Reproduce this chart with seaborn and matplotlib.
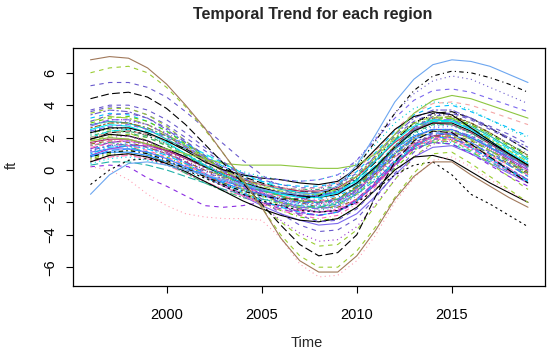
import pandas as pd
import numpy as np
import seaborn as sns
import matplotlib.pyplot as plt

# yearly temporal trend (ft) per region
years = list(range(1996, 2020))

r01 = [6.8, 7.0, 6.9, 6.3, 5.3, 4.0, 2.6, 1.0, -0.6, -2.3, -4.2, -5.6, -6.3, -6.3, -5.3, -3.7, -1.8, -0.4, 0.5, 0.5, -0.3, -1.0, -1.7, -2.3]
r02 = [6.0, 6.3, 6.4, 6.0, 5.1, 3.9, 2.5, 1.0, -0.6, -2.3, -4.0, -5.3, -6.0, -6.0, -5.0, -3.5, -1.7, -0.2, 1.0, 1.1, 0.4, -0.4, -1.2, -2.0]
r03 = [0.2, 0.0, -0.6, -1.5, -2.2, -2.7, -2.9, -3.0, -3.0, -3.1, -4.2, -5.8, -6.6, -6.5, -5.6, -4.0, -2.0, -0.5, 0.6, 0.8, 0.2, -0.6, -1.3, -2.0]
r04 = [5.2, 5.4, 5.4, 5.1, 4.5, 3.6, 2.6, 1.6, 0.6, -0.3, -1.1, -1.7, -2.0, -1.9, -1.2, 0.0, 1.4, 2.6, 3.3, 3.5, 3.2, 2.7, 2.2, 1.6]
r05 = [4.4, 4.7, 4.8, 4.5, 3.8, 2.8, 1.6, 0.4, -0.8, -2.1, -3.4, -4.6, -5.3, -5.1, -4.0, -1.6, 0.5, 1.8, 2.4, 2.3, 1.6, 0.8, 0.0, -0.8]
r06 = [3.7, 4.0, 4.0, 3.7, 3.1, 2.3, 1.4, 0.5, -0.4, -1.3, -2.1, -2.8, -3.2, -3.1, -2.4, -1.2, 0.2, 1.5, 2.3, 2.5, 2.1, 1.5, 0.8, 0.1]
r07 = [-1.5, -0.3, 0.4, 0.5, 0.3, 0.0, -0.3, -0.6, -0.9, -1.2, -1.4, -1.5, -1.4, -1.0, 0.3, 2.2, 4.2, 5.6, 6.5, 6.8, 6.7, 6.4, 5.9, 5.4]
r08 = [0.8, 1.1, 1.2, 1.0, 0.6, 0.1, -0.4, -0.9, -1.3, -1.6, -1.8, -1.8, -1.6, -1.0, 0.2, 1.8, 3.5, 4.9, 5.8, 6.1, 6.0, 5.7, 5.3, 4.8]
r09 = [1.2, 1.5, 1.6, 1.4, 1.0, 0.5, 0.0, -0.5, -0.9, -1.2, -1.4, -1.4, -1.2, -0.6, 0.6, 2.0, 3.5, 4.7, 5.5, 5.8, 5.6, 5.1, 4.6, 4.1]
r10 = [2.4, 2.7, 2.8, 2.5, 2.0, 1.4, 0.8, 0.2, -0.2, -0.5, -0.6, -0.7, -0.6, -0.3, 0.6, 1.9, 3.2, 4.3, 4.9, 5.0, 4.8, 4.4, 4.0, 3.6]
r11 = [1.8, 2.0, 1.9, 1.6, 1.3, 1.0, 0.7, 0.4, 0.3, 0.3, 0.3, 0.2, 0.1, 0.1, 0.3, 1.0, 2.2, 3.5, 4.3, 4.6, 4.4, 4.0, 3.6, 3.2]
r12 = [-0.9, 0.0, 0.6, 0.7, 0.4, 0.0, -0.5, -1.0, -1.5, -1.9, -2.2, -2.5, -2.6, -2.5, -2.0, -1.2, -0.3, 0.3, 0.5, -0.3, -1.5, -2.1, -2.8, -3.5]
r13 = [0.5, 0.9, 1.0, 0.8, 0.4, -0.1, -0.7, -1.3, -1.9, -2.4, -2.8, -3.1, -3.2, -3.0, -2.3, -1.2, 0.0, 0.8, 0.9, 0.6, -0.1, -0.8, -1.4, -2.0]
r14 = [2.3, 2.6, 2.6, 2.3, 1.8, 1.2, 0.5, 0.0, -0.3, -0.5, -0.6, -0.8, -0.9, -0.7, 0.1, 1.3, 2.5, 3.3, 3.6, 3.4, 2.6, 1.8, 1.0, 0.3]
r15 = [0.2, 0.3, 0.2, -0.5, -1.0, -1.6, -2.2, -2.3, -2.2, -2.0, -2.2, -2.6, -2.8, -2.6, -2.0, -0.8, 0.4, 1.3, 1.7, 1.6, 1.0, 0.3, -0.4, -1.0]
r16 = [3.0, 3.4, 3.5, 3.2, 2.6, 1.8, 0.9, 0.0, -0.9, -1.8, -2.7, -3.4, -3.8, -3.7, -3.0, -1.7, -0.2, 1.1, 1.9, 2.0, 1.5, 0.8, 0.1, -0.6]
r17 = [2.8, 3.1, 3.1, 2.8, 2.2, 1.4, 0.5, -0.4, -1.3, -2.2, -3.1, -3.9, -4.4, -4.3, -3.5, -2.1, -0.6, 0.8, 1.6, 1.8, 1.3, 0.6, -0.1, -0.8]
r18 = [3.5, 3.8, 3.8, 3.4, 2.7, 1.8, 0.8, -0.2, -1.2, -2.2, -3.2, -4.1, -4.7, -4.6, -3.7, -2.2, -0.6, 0.8, 1.7, 1.8, 1.2, 0.4, -0.4, -1.2]
r19 = [2.0, 2.3, 2.4, 2.2, 1.8, 1.2, 0.6, 0.0, -0.5, -0.9, -1.1, -1.2, -1.1, -0.8, 0.0, 1.2, 2.5, 3.5, 4.1, 4.2, 4.0, 3.6, 3.2, 2.8]
r20 = [2.4, 2.7, 2.8, 2.6, 2.1, 1.5, 0.9, 0.3, -0.1, -0.4, -0.6, -0.7, -0.6, -0.3, 0.4, 1.6, 2.9, 3.8, 4.2, 4.1, 3.7, 3.1, 2.5, 2.0]
r21 = [2.5, 2.8, 2.7, 2.3, 1.7, 1.0, 0.3, -0.3, -0.8, -1.2, -1.5, -1.7, -1.7, -1.4, -0.6, 0.6, 1.8, 2.7, 3.1, 3.0, 2.5, 1.8, 1.1, 0.4]
r22 = [2.0, 2.3, 2.3, 2.0, 1.5, 0.9, 0.2, -0.4, -0.9, -1.3, -1.6, -1.9, -2.0, -1.8, -1.1, 0.0, 1.3, 2.3, 2.8, 2.8, 2.3, 1.6, 0.9, 0.2]
r23 = [1.6, 2.0, 2.1, 1.8, 1.3, 0.7, 0.1, -0.5, -1.0, -1.4, -1.8, -2.1, -2.2, -2.0, -1.3, -0.2, 1.0, 2.0, 2.5, 2.5, 2.0, 1.3, 0.6, -0.1]
r24 = [1.2, 1.5, 1.6, 1.4, 1.0, 0.5, -0.1, -0.6, -1.1, -1.5, -1.8, -2.0, -2.1, -1.9, -1.3, -0.3, 0.8, 1.7, 2.2, 2.2, 1.7, 1.1, 0.4, -0.3]
r25 = [0.8, 1.2, 1.3, 1.1, 0.7, 0.2, -0.3, -0.8, -1.2, -1.5, -1.8, -2.0, -2.0, -1.8, -1.1, -0.1, 1.0, 1.9, 2.3, 2.2, 1.7, 1.0, 0.3, -0.4]
r26 = [3.0, 3.3, 3.2, 2.8, 2.2, 1.5, 0.7, 0.0, -0.6, -1.0, -1.3, -1.5, -1.5, -1.2, -0.4, 0.8, 2.0, 2.9, 3.3, 3.2, 2.6, 1.9, 1.2, 0.5]
r27 = [1.9, 2.2, 2.1, 1.8, 1.3, 0.8, 0.2, -0.3, -0.8, -1.1, -1.4, -1.6, -1.7, -1.5, -0.8, 0.2, 1.4, 2.4, 2.9, 2.9, 2.4, 1.7, 1.0, 0.3]
r28 = [1.4, 1.6, 1.5, 1.2, 0.8, 0.3, -0.2, -0.7, -1.1, -1.4, -1.6, -1.8, -1.9, -1.8, -1.2, -0.3, 0.8, 1.6, 2.0, 2.0, 1.5, 0.9, 0.3, -0.3]
r29 = [2.2, 2.6, 2.6, 2.3, 1.7, 1.0, 0.2, -0.5, -1.2, -1.7, -2.1, -2.4, -2.5, -2.3, -1.5, -0.3, 1.1, 2.2, 2.8, 2.8, 2.2, 1.4, 0.6, -0.2]
r30 = [0.6, 0.9, 1.0, 0.8, 0.5, 0.1, -0.4, -0.8, -1.2, -1.5, -1.7, -1.9, -1.9, -1.7, -1.1, -0.2, 0.9, 1.7, 2.1, 2.1, 1.6, 1.0, 0.4, -0.2]
r31 = [2.7, 3.1, 3.1, 2.8, 2.2, 1.5, 0.7, -0.1, -0.8, -1.4, -1.9, -2.3, -2.4, -2.2, -1.4, -0.1, 1.3, 2.5, 3.1, 3.1, 2.5, 1.7, 0.9, 0.1]
r32 = [1.0, 1.4, 1.5, 1.3, 0.9, 0.4, -0.2, -0.8, -1.4, -1.9, -2.3, -2.6, -2.8, -2.6, -1.9, -0.8, 0.5, 1.5, 2.0, 2.0, 1.4, 0.7, 0.0, -0.7]
r33 = [1.7, 1.9, 1.9, 1.6, 1.2, 0.7, 0.2, -0.2, -0.6, -0.9, -1.1, -1.3, -1.3, -1.1, -0.4, 0.6, 1.7, 2.5, 2.9, 2.8, 2.3, 1.6, 0.9, 0.2]
r34 = [2.9, 3.2, 3.3, 3.0, 2.4, 1.6, 0.8, 0.0, -0.7, -1.2, -1.6, -1.9, -2.0, -1.8, -1.1, 0.1, 1.4, 2.5, 3.1, 3.2, 2.8, 2.2, 1.5, 0.8]
r35 = [0.4, 0.7, 0.8, 0.6, 0.3, -0.1, -0.5, -0.9, -1.3, -1.6, -1.9, -2.1, -2.2, -2.0, -1.4, -0.5, 0.6, 1.4, 1.8, 1.7, 1.2, 0.6, 0.0, -0.6]
r36 = [2.1, 2.4, 2.4, 2.1, 1.6, 1.0, 0.4, -0.2, -0.6, -0.9, -1.1, -1.2, -1.2, -1.0, -0.3, 0.7, 1.9, 2.8, 3.2, 3.2, 2.8, 2.2, 1.6, 1.0]
r37 = [1.3, 1.7, 1.8, 1.6, 1.1, 0.5, -0.2, -0.9, -1.5, -2.0, -2.4, -2.7, -2.8, -2.6, -1.8, -0.7, 0.6, 1.6, 2.1, 2.0, 1.4, 0.7, 0.0, -0.6]
r38 = [3.4, 3.7, 3.6, 3.2, 2.5, 1.7, 0.8, 0.0, -0.6, -1.1, -1.4, -1.6, -1.6, -1.3, -0.4, 0.9, 2.2, 3.2, 3.7, 3.7, 3.2, 2.6, 2.0, 1.4]
r39 = [0.9, 1.1, 1.1, 0.9, 0.5, 0.1, -0.3, -0.7, -1.0, -1.3, -1.5, -1.6, -1.6, -1.4, -0.8, 0.2, 1.3, 2.1, 2.5, 2.5, 2.0, 1.4, 0.8, 0.2]
r40 = [1.8, 2.1, 2.2, 2.0, 1.5, 0.9, 0.2, -0.5, -1.1, -1.6, -2.0, -2.3, -2.4, -2.2, -1.5, -0.4, 0.9, 1.9, 2.4, 2.4, 1.9, 1.2, 0.5, -0.2]
r41 = [2.4, 2.6, 2.5, 2.1, 1.6, 1.0, 0.3, -0.3, -0.8, -1.2, -1.4, -1.6, -1.6, -1.3, -0.5, 0.7, 1.9, 2.9, 3.4, 3.4, 2.9, 2.3, 1.6, 0.9]
r42 = [1.5, 1.8, 1.8, 1.5, 1.0, 0.4, -0.3, -1.0, -1.6, -2.1, -2.5, -2.8, -3.0, -2.8, -2.1, -1.0, 0.3, 1.3, 1.8, 1.8, 1.3, 0.6, -0.1, -0.8]
r43 = [0.3, 0.5, 0.5, 0.3, 0.0, -0.4, -0.8, -1.2, -1.5, -1.8, -2.0, -2.2, -2.3, -2.1, -1.5, -0.6, 0.5, 1.3, 1.7, 1.6, 1.1, 0.5, -0.1, -0.7]
r44 = [2.6, 2.9, 2.9, 2.6, 2.1, 1.4, 0.6, -0.1, -0.7, -1.2, -1.6, -1.9, -2.0, -1.8, -1.0, 0.2, 1.5, 2.6, 3.2, 3.3, 2.9, 2.3, 1.6, 0.9]
r45 = [1.1, 1.3, 1.3, 1.1, 0.7, 0.2, -0.4, -1.0, -1.6, -2.2, -2.7, -3.1, -3.4, -3.3, -2.7, -1.6, -0.3, 0.8, 1.4, 1.5, 1.0, 0.4, -0.2, -0.8]
r46 = [3.2, 3.5, 3.4, 3.0, 2.4, 1.7, 0.9, 0.2, -0.3, -0.7, -0.9, -1.0, -1.0, -0.8, -0.1, 1.1, 2.4, 3.4, 3.9, 4.0, 3.6, 3.1, 2.6, 2.1]
r47 = [2.0, 2.2, 2.1, 1.7, 1.2, 0.6, 0.0, -0.6, -1.1, -1.5, -1.8, -2.0, -2.1, -1.9, -1.2, -0.1, 1.1, 2.0, 2.5, 2.5, 2.0, 1.3, 0.6, -0.1]
r48 = [0.7, 1.0, 1.2, 1.1, 0.8, 0.3, -0.3, -0.9, -1.5, -2.0, -2.5, -2.9, -3.1, -3.0, -2.3, -1.2, 0.1, 1.2, 1.8, 1.9, 1.5, 0.9, 0.3, -0.3]
r49 = [2.0, 2.4, 2.5, 2.4, 2.1, 1.6, 1.0, 0.4, -0.2, -0.7, -1.1, -1.4, -1.5, -1.3, -0.7, 0.3, 1.5, 2.5, 3.0, 3.0, 2.6, 2.0, 1.3, 0.6]
r50 = [1.5, 1.7, 1.5, 1.0, 0.4, -0.2, -0.8, -1.3, -1.7, -2.0, -2.2, -2.3, -2.3, -2.0, -1.3, -0.2, 1.0, 2.0, 2.5, 2.4, 1.9, 1.2, 0.5, -0.2]
r51 = [0.9, 1.3, 1.5, 1.5, 1.2, 0.8, 0.3, -0.3, -0.9, -1.5, -2.0, -2.4, -2.6, -2.5, -1.9, -0.9, 0.3, 1.4, 2.1, 2.3, 2.0, 1.4, 0.7, 0.0]
r52 = [3.6, 3.9, 3.8, 3.4, 2.8, 2.0, 1.2, 0.4, -0.2, -0.6, -0.9, -1.1, -1.1, -0.9, -0.2, 0.9, 2.1, 3.0, 3.5, 3.5, 3.1, 2.5, 1.9, 1.2]
r53 = [1.1, 1.5, 1.7, 1.6, 1.3, 0.8, 0.2, -0.4, -1.0, -1.5, -1.9, -2.2, -2.3, -2.1, -1.4, -0.3, 1.0, 2.1, 2.7, 2.8, 2.4, 1.8, 1.1, 0.4]
r54 = [2.3, 2.5, 2.3, 1.8, 1.1, 0.4, -0.3, -0.9, -1.4, -1.8, -2.1, -2.4, -2.6, -2.5, -1.9, -0.9, 0.3, 1.4, 2.0, 2.1, 1.6, 1.0, 0.3, -0.4]
r55 = [1.9, 2.3, 2.4, 2.2, 1.8, 1.3, 0.7, 0.1, -0.4, -0.8, -1.1, -1.3, -1.4, -1.2, -0.6, 0.5, 1.8, 2.9, 3.5, 3.6, 3.2, 2.6, 1.9, 1.2]
r56 = [0.5, 0.8, 0.9, 0.7, 0.3, -0.2, -0.7, -1.2, -1.6, -2.0, -2.3, -2.5, -2.6, -2.4, -1.8, -0.8, 0.4, 1.4, 1.9, 1.9, 1.4, 0.8, 0.1, -0.6]
r57 = [2.8, 3.0, 2.9, 2.5, 1.9, 1.3, 0.6, 0.0, -0.5, -0.9, -1.2, -1.4, -1.5, -1.4, -0.9, 0.1, 1.3, 2.4, 3.0, 3.1, 2.7, 2.1, 1.4, 0.7]
r58 = [1.6, 1.8, 1.7, 1.4, 1.0, 0.5, 0.0, -0.4, -0.8, -1.2, -1.6, -2.0, -2.3, -2.3, -1.8, -0.8, 0.4, 1.5, 2.1, 2.2, 1.8, 1.2, 0.6, -0.1]
r59 = [2.5, 2.9, 3.0, 2.8, 2.3, 1.6, 0.8, 0.0, -0.7, -1.3, -1.8, -2.2, -2.4, -2.3, -1.6, -0.5, 0.8, 1.9, 2.6, 2.7, 2.3, 1.7, 1.0, 0.3]
r60 = [1.3, 1.5, 1.4, 1.1, 0.7, 0.2, -0.3, -0.8, -1.2, -1.5, -1.7, -1.8, -1.8, -1.6, -1.0, 0.0, 1.1, 2.0, 2.5, 2.5, 2.1, 1.5, 0.9, 0.2]

regions = [r01, r02, r03, r04, r05, r06, r07, r08, r09, r10, r11, r12,
           r13, r14, r15, r16, r17, r18, r19, r20, r21, r22, r23, r24,
           r25, r26, r27, r28, r29, r30, r31, r32, r33, r34, r35, r36,
           r37, r38, r39, r40, r41, r42, r43, r44, r45, r46, r47, r48,
           r49, r50, r51, r52, r53, r54, r55, r56, r57, r58, r59, r60]

# colour / line type of the first 20 (distinct) regions, the rest cycle
first_colors = ['#A0785A', '#9ACD32', '#FFA0B4', '#6A5ACD', '#000000', '#6A5ACD',
                '#6CA6F0', '#000000', '#6A5ACD', '#7B68EE', '#8DC63F', '#000000',
                '#000000', '#000000', '#8A2BE2', '#6A5ACD', '#9A32CD', '#9ACD32',
                '#F4A6A6', '#00CED1']
first_styles = ['solid', 'dashed', 'dotted', 'dashed', 'longdash', 'dashed',
                'solid', 'dotdash', 'dotted', 'dashed', 'solid', 'shortdash',
                'solid', 'solid', 'dashed', 'dashed', 'dotted', 'dashed',
                'dashed', 'dotted']
cycle_colors = ['#00E5EE', '#3CB371', '#9932CC', '#6A5ACD', '#1E90FF', '#9ACD32',
                '#000000', '#FF69B4', '#20B2AA', '#8B6914', '#7B68EE', '#00BFFF',
                '#B03060', '#66CD00']
cycle_styles = ['solid', 'dashed', 'dotted', 'dotdash', 'longdash', 'twodash']

dash_map = {'solid': '', 'dashed': (4, 4), 'dotted': (1, 3), 'dotdash': (1, 3, 4, 3),
            'longdash': (7, 3), 'twodash': (2, 2, 6, 2), 'shortdash': (2, 3)}

names = ['R%02d' % (i + 1) for i in range(len(regions))]
df = pd.DataFrame({'Time': years})
for n, vals in zip(names, regions):
    df[n] = vals
long_df = df.melt(id_vars='Time', var_name='region', value_name='ft')

palette = {}
dashes = {}
for i, n in enumerate(names):
    if i < len(first_colors):
        palette[n] = first_colors[i]
        dashes[n] = dash_map[first_styles[i]]
    else:
        j = i - len(first_colors)
        palette[n] = cycle_colors[j % len(cycle_colors)]
        dashes[n] = dash_map[cycle_styles[j % len(cycle_styles)]]

sns.set_style('white')
plt.rcParams['font.family'] = ['Liberation Sans', 'DejaVu Sans']

fig = plt.figure(figsize=(5.5, 3.6), dpi=100)
ax = fig.add_axes([0.1327, 0.2056, 0.8591, 0.6611])

# draw in reverse so the first (extreme) regions sit on top
order = names[::-1]
sns.lineplot(data=long_df, x='Time', y='ft', hue='region', style='region',
             hue_order=order, style_order=order, palette=palette, dashes=dashes,
             linewidth=0.8, legend=False, ax=ax)

ax.set_xlim(1995.08, 2019.92)
ax.set_ylim(-7.16, 7.53)
ax.set_xticks([2000, 2005, 2010, 2015])
ax.set_yticks([-6, -4, -2, 0, 2, 4, 6])
ax.set_xlabel('')
ax.set_ylabel('')
for s in ax.spines.values():
    s.set_color('black')
    s.set_linewidth(0.9)
ax.tick_params(axis='both', direction='out', length=5, width=0.8, color='black',
               labelsize=10.5, labelcolor='black', bottom=True, left=True)
ax.tick_params(axis='x', pad=11)
ax.tick_params(axis='y', pad=6)
for lab in ax.get_yticklabels():
    lab.set_rotation(90)
    lab.set_va('center')

fig.text(0.568, 1 - 15 / 360, 'Temporal Trend for each region', ha='center',
         va='center', fontsize=11.5, fontweight='bold')
fig.text(0.558, 1 - 343 / 360, 'Time', ha='center', va='center', fontsize=10.5)
fig.text(12 / 550, 1 - 165 / 360, 'ft', ha='center', va='center', fontsize=10.5,
         rotation=90)

plt.savefig('out.png', dpi=100)
